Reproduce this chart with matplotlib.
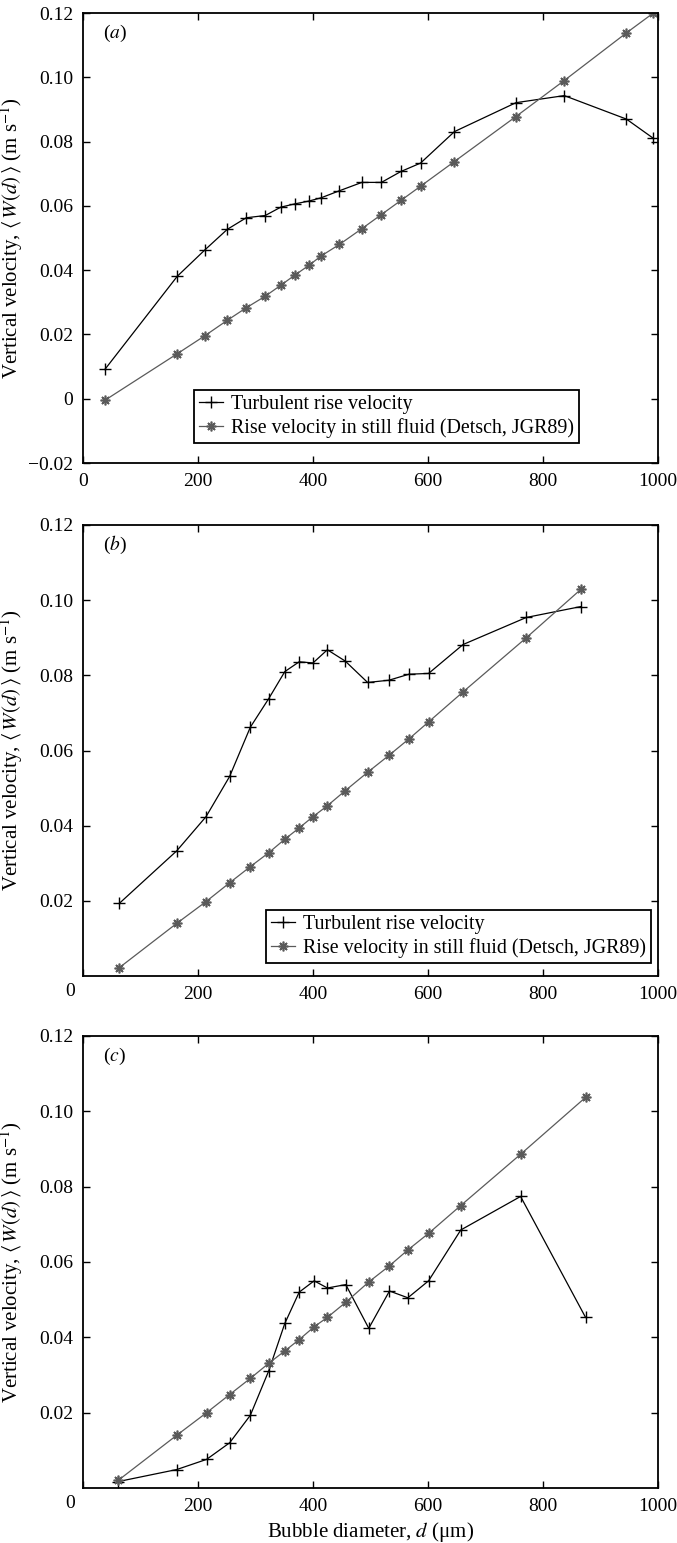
import matplotlib
matplotlib.use("Agg")
import matplotlib.pyplot as plt

# ---------------- data ----------------
d_a = [38, 164, 212, 251, 284, 317, 344, 368, 393, 414, 446, 485, 519, 553, 587, 646, 753, 837, 945, 992]
turb_a = [0.0091, 0.0381, 0.0463, 0.0527, 0.0563, 0.0570, 0.0596, 0.0606, 0.0615, 0.0625,
          0.0647, 0.0673, 0.0673, 0.0707, 0.0733, 0.0831, 0.0921, 0.0943, 0.0870, 0.0810]
still_a = [-0.0005, 0.0140, 0.0196, 0.0244, 0.0283, 0.0319, 0.0353, 0.0384, 0.0415, 0.0444,
           0.0480, 0.0529, 0.0573, 0.0617, 0.0661, 0.0738, 0.0878, 0.0990, 0.1138, 0.1200]

d_b = [63, 163, 214, 255, 291, 323, 351, 376, 400, 425, 456, 495, 532, 567, 601, 661, 771, 866]
turb_b = [0.0193, 0.0333, 0.0424, 0.0531, 0.0662, 0.0738, 0.0810, 0.0836, 0.0833, 0.0868,
          0.0838, 0.0781, 0.0787, 0.0803, 0.0805, 0.0882, 0.0954, 0.0983]
still_b = [0.0022, 0.0140, 0.0198, 0.0248, 0.0291, 0.0328, 0.0364, 0.0394, 0.0424, 0.0453,
           0.0493, 0.0542, 0.0587, 0.0631, 0.0676, 0.0756, 0.0900, 0.1029]

d_c = [61, 163, 215, 255, 291, 323, 351, 376, 402, 425, 457, 497, 533, 565, 601, 657, 761, 874]
turb_c = [0.0017, 0.0049, 0.0076, 0.0120, 0.0193, 0.0311, 0.0437, 0.0520, 0.0550, 0.0531,
          0.0540, 0.0424, 0.0523, 0.0505, 0.0550, 0.0685, 0.0774, 0.0453]
still_c = [0.0020, 0.0140, 0.0200, 0.0248, 0.0291, 0.0331, 0.0364, 0.0394, 0.0428, 0.0453,
           0.0493, 0.0547, 0.0590, 0.0632, 0.0676, 0.0750, 0.0886, 0.1037]

panel_tags = ["a", "b", "c"]
xticks = [0, 200, 400, 600, 800, 1000]
yticks_a = [-0.02, 0, 0.02, 0.04, 0.06, 0.08, 0.10, 0.12]
ytick_labels_a = ["\u22120.02", "0", "0.02", "0.04", "0.06", "0.08", "0.10", "0.12"]
yticks_bc = [0.02, 0.04, 0.06, 0.08, 0.10, 0.12]
ytick_labels_bc = ["0.02", "0.04", "0.06", "0.08", "0.10", "0.12"]
label_turb = "Turbulent rise velocity"
label_still = "Rise velocity in still fluid (Detsch, JGR89)"
ylabel = r"Vertical velocity, $\langle\, W(d)\,\rangle$ (m s$^{-1}$)"
xlabel = r"Bubble diameter, $d$ (μm)"

# ---------------- style ----------------
plt.rcParams["font.family"] = ["Liberation Serif", "DejaVu Serif"]
plt.rcParams["mathtext.fontset"] = "stix"
FS = 14
FL = 15
FG = 14.4
plt.rcParams["font.size"] = FS
plt.rcParams["axes.linewidth"] = 1.3

fig = plt.figure(figsize=(6.77, 15.43), dpi=100)
W, H = 677.0, 1543.0
left = 83 / W
width = 575 / W
boxes = [(13, 463), (525, 976), (1036, 1488)]

datasets = [(d_a, turb_a, still_a), (d_b, turb_b, still_b), (d_c, turb_c, still_c)]
still_color = "#5a5a5a"
asterisk = (8, 2, 0)

for i, ((top, bot), (dd, tt, ss), tag) in enumerate(zip(boxes, datasets, panel_tags)):
    ax = fig.add_axes([left, 1 - bot / H, width, (bot - top) / H])
    ax.plot(dd, tt, color="black", lw=0.9, marker="+", ms=8, mew=1.0, label=label_turb)
    ax.plot(dd, ss, color=still_color, lw=0.9, marker=asterisk, ms=7, mew=1.2,
            label=label_still)
    ax.set_xlim(0, 1000)
    ax.set_xticks(xticks)
    if i == 0:
        ax.set_ylim(-0.02, 0.12)
        ax.set_yticks(yticks_a)
        ax.set_yticklabels(ytick_labels_a)
        ax.set_xticklabels([str(v) for v in xticks])
    else:
        ax.set_ylim(0, 0.12)
        ax.set_yticks(yticks_bc)
        ax.set_yticklabels(ytick_labels_bc)
        ax.set_xticklabels([""] + [str(v) for v in xticks[1:]])
        ax.text(-0.023, -0.0155, "0", transform=ax.transAxes, ha="center", va="top",
                fontsize=FS)
    ax.tick_params(direction="in", top=True, right=True, length=5, width=1.0, pad=7,
                   labelsize=FS)
    ax.set_ylabel(ylabel, fontsize=FL)
    ax.yaxis.set_label_coords(-0.1, 0.5)
    ax.text(0.035, 0.955, r"($\mathit{" + tag + r"}$)", transform=ax.transAxes,
            ha="left", va="center", fontsize=FS)
    if i == 0:
        leg = ax.legend(loc="lower left", bbox_to_anchor=(0.193, 0.044), borderaxespad=0,
                        numpoints=1, handlelength=1.2, handletextpad=0.4,
                        borderpad=0.25, labelspacing=0.2, fancybox=False,
                        framealpha=1, edgecolor="black", fontsize=FG)
        leg.get_frame().set_linewidth(1.3)
    elif i == 1:
        leg = ax.legend(loc="lower right", bbox_to_anchor=(0.988, 0.029), borderaxespad=0,
                        numpoints=1, handlelength=1.2, handletextpad=0.4,
                        borderpad=0.25, labelspacing=0.2, fancybox=False,
                        framealpha=1, edgecolor="black", fontsize=FG)
        leg.get_frame().set_linewidth(1.3)
    else:
        ax.set_xlabel(xlabel, fontsize=FL, labelpad=4)

fig.savefig("out.png", dpi=100)
